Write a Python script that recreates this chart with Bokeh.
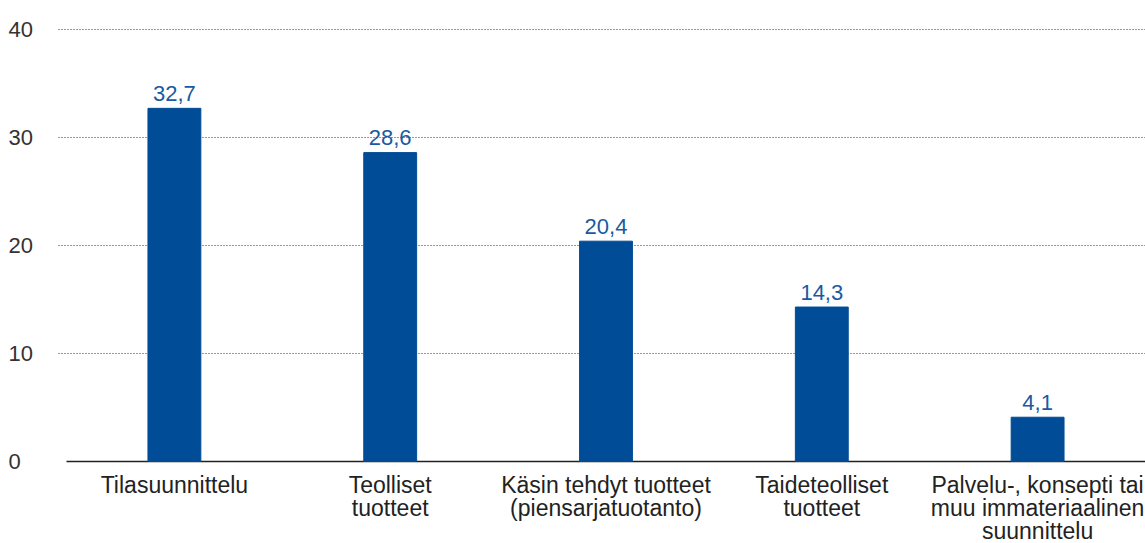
from bokeh.plotting import figure
from bokeh.models import Range1d, ColumnDataSource
from bokeh.core.properties import value
from bokeh.embed import file_html
from bokeh.resources import INLINE

categories = ["Tilasuunnittelu", "Teolliset\ntuotteet", "Käsin tehdyt tuotteet\n(piensarjatuotanto)",
              "Taideteolliset\ntuotteet", "Palvelu-, konsepti tai\nmuu immateriaalinen\nsuunnittelu"]
values = [32.7, 28.6, 20.4, 14.3, 4.1]
y_ticks = [0, 10, 20, 30, 40]

FONT = "Liberation Sans"
BAR = "#004c97"
LBL = "#1a5aa0"
TXT = "#222222"

W, H = 1145, 543
LEFT, BASE = 66, 461          # screen px of the first category's left edge / zero line
PX_X = (W - LEFT) / len(categories)
PX_Y = 10.8

def sx(px):  # screen x -> data x
    return (px - LEFT) / PX_X

p = figure(width=W, height=H, output_backend="svg", toolbar_location=None,
           min_border=0, x_range=Range1d(sx(0), len(categories)),
           y_range=Range1d(-(H - BASE) / PX_Y, BASE / PX_Y))
p.axis.visible = False
p.grid.visible = False
p.outline_line_color = None
p.background_fill_color = "white"

xs = [i + 0.5 for i in range(len(categories))]

# grid lines
grid_ticks = [t for t in y_ticks if t != 0]
p.segment(x0=[sx(58)] * len(grid_ticks), x1=[len(categories)] * len(grid_ticks),
          y0=grid_ticks, y1=grid_ticks, line_color="#333333", line_dash="1 2", line_width=1)
# baseline
p.segment(x0=[0], x1=[len(categories)], y0=[0], y1=[0], line_color=TXT, line_width=1.4)

# bars
src = ColumnDataSource(dict(x=xs, val=values,
                            txt=[f"{v:.1f}".replace(".", ",") for v in values]))
p.vbar(x="x", top="val", width=0.245, color=BAR, source=src)
p.text(x="x", y="val", text="txt", source=src, y_offset=-15,
       text_align="center", text_baseline="alphabetic", text_color=LBL,
       text_font=value(FONT), text_font_size="22px")

# y tick labels
p.text(x=[sx(8)] * len(y_ticks), y=y_ticks, text=[str(t) for t in y_ticks],
       text_align="left", text_baseline="middle", text_color="#333333",
       text_font=value(FONT), text_font_size="22px")

# category labels, one glyph per line
lx, lt, lo = [], [], []
for x, c in zip(xs, categories):
    for j, line in enumerate(c.split("\n")):
        lx.append(x)
        lt.append(line)
        lo.append(23 + 23 * j)
lsrc = ColumnDataSource(dict(x=lx, y=[0] * len(lx), txt=lt, off=lo))
p.text(x="x", y="y", text="txt", y_offset="off", source=lsrc,
       text_align="center", text_baseline="alphabetic", text_color=TXT,
       text_font=value(FONT), text_font_size="23px")

open("out.html", "w").write(file_html(p, INLINE))
